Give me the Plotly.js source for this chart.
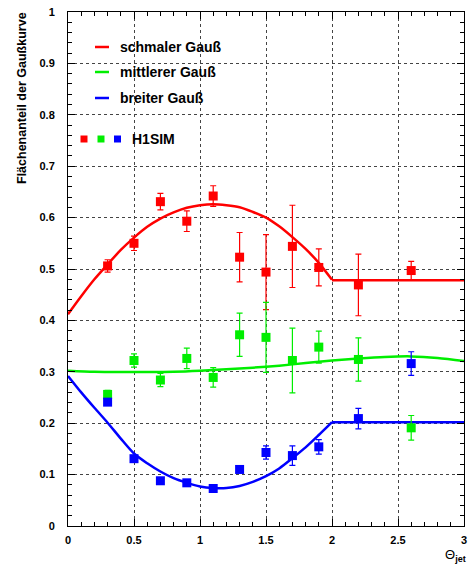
<!DOCTYPE html>
<html>
<head>
<meta charset="utf-8">
<script src="https://cdn.plot.ly/plotly-3.0.1.min.js"></script>
<style>html,body{margin:0;padding:0;background:#fff;}#chart{width:472px;height:567px;}</style>
</head>
<body>
<div id="chart"></div>
<script>
// ---- data ----
const thetaPoints = [0.3, 0.5, 0.7, 0.9, 1.1, 1.3, 1.5, 1.7, 1.9, 2.2, 2.6];

const schmalValues = [0.506, 0.550, 0.631, 0.593, 0.642, 0.523, 0.494, 0.544, 0.503, 0.469, 0.497];
const schmalErrors = [0.012, 0.014, 0.016, 0.020, 0.020, 0.048, 0.073, 0.080, 0.036, 0.060, 0.018];

const mittelValues = [0.256, 0.322, 0.284, 0.326, 0.289, 0.372, 0.367, 0.322, 0.348, 0.324, 0.191];
const mittelErrors = [0.008, 0.013, 0.013, 0.020, 0.019, 0.042, 0.068, 0.063, 0.031, 0.042, 0.024];

const breitValues = [0.241, 0.131, 0.088, 0.084, 0.073, 0.110, 0.143, 0.137, 0.154, 0.209, 0.316];
const breitErrors = [0.004, 0.004, 0.004, 0.004, 0.004, 0.006, 0.013, 0.019, 0.014, 0.020, 0.023];

// fitted curves (curved part up to 2.0, flat part 2.0-3.0)
const fitX = [0, 0.1, 0.2, 0.3, 0.4, 0.5, 0.6, 0.7, 0.8, 0.9, 1.0, 1.1, 1.2, 1.3, 1.4, 1.5, 1.6, 1.7, 1.8, 1.9, 2.0];
const schmalFit = [0.412, 0.447, 0.480, 0.509, 0.537, 0.561, 0.582, 0.598, 0.610, 0.619, 0.624, 0.626, 0.624, 0.620, 0.611, 0.600, 0.583, 0.562, 0.539, 0.512, 0.479];
const breitFit  = [0.292, 0.260, 0.230, 0.201, 0.170, 0.141, 0.122, 0.106, 0.093, 0.084, 0.077, 0.074, 0.074, 0.078, 0.086, 0.097, 0.112, 0.132, 0.153, 0.177, 0.202];
const flatX = [2.0, 3.0];
const schmalFlat = [0.478, 0.478];
const breitFlat = [0.202, 0.202];

const mittelFitX = [0, 0.2, 0.4, 0.6, 0.8, 1.0, 1.2, 1.4, 1.6, 1.8, 2.0, 2.2, 2.4, 2.6, 2.8, 3.0];
const mittelFit  = [0.302, 0.300, 0.2995, 0.2995, 0.300, 0.302, 0.305, 0.308, 0.312, 0.317, 0.322, 0.326, 0.329, 0.330, 0.327, 0.321];

const seriesNames = ['schmaler Gauß', 'mittlerer Gauß', 'breiter Gauß'];
const dataLabel = 'H1SIM';
const yTitle = 'Flächenanteil der Gaußkurve';

const RED = '#ff0000', GREEN = '#00ee00', BLUE = '#0000ff';
const colors = [RED, GREEN, BLUE];

function pointTrace(vals, errs, color) {
  return {
    x: thetaPoints, y: vals, type: 'scatter', mode: 'markers',
    marker: {symbol: 'square', size: 9, color: color},
    error_y: {type: 'data', array: errs, visible: true, color: color, thickness: 1.2, width: 3},
    showlegend: false, hoverinfo: 'x+y'
  };
}
function lineTrace(xs, ys, color, shape) {
  return {x: xs, y: ys, type: 'scatter', mode: 'lines',
    line: {color: color, width: 2.5, shape: shape, smoothing: 0.8}, showlegend: false, hoverinfo: 'skip'};
}

const traces = [
  lineTrace(fitX, schmalFit, RED, 'spline'),
  lineTrace(flatX, schmalFlat, RED, 'linear'),
  lineTrace(mittelFitX, mittelFit, GREEN, 'spline'),
  lineTrace(fitX, breitFit, BLUE, 'spline'),
  lineTrace(flatX, breitFlat, BLUE, 'linear'),
  pointTrace(schmalValues, schmalErrors, RED),
  pointTrace(mittelValues, mittelErrors, GREEN),
  pointTrace(breitValues, breitErrors, BLUE)
];

// pixel -> paper helpers (plot area 68..464 x, 12..526 y)
const L = 68, R = 464, T = 12, B = 526;
const px = v => (v - L) / (R - L);
const py = v => (B - v) / (B - T);

const FONT = 'Liberation Sans, Arial, Helvetica, sans-serif';

const shapes = [];
const annotations = [];
const legendRows = [47, 72, 98];
seriesNames.forEach((name, i) => {
  shapes.push({type: 'line', xref: 'paper', yref: 'paper',
    x0: px(95), x1: px(109), y0: py(legendRows[i]), y1: py(legendRows[i]),
    line: {color: colors[i], width: 2.5}});
  annotations.push({xref: 'paper', yref: 'paper', x: px(118), y: py(legendRows[i]),
    xanchor: 'left', yanchor: 'middle', showarrow: false, text: name,
    font: {family: FONT, size: 14, color: '#000', weight: 'bold'}});
});
[84, 101, 117.5].forEach((cx, i) => {
  shapes.push({type: 'rect', xref: 'paper', yref: 'paper',
    x0: px(cx - 3.5), x1: px(cx + 3.5), y0: py(139 + 3.5), y1: py(139 - 3.5),
    fillcolor: colors[i], line: {width: 0}});
});
annotations.push({xref: 'paper', yref: 'paper', x: px(130), y: py(139),
  xanchor: 'left', yanchor: 'middle', showarrow: false, text: dataLabel,
  font: {family: FONT, size: 14, color: '#000', weight: 'bold'}});

// y-axis title (top aligned)
annotations.push({xref: 'paper', yref: 'paper', x: -(L - 22) / (R - L), y: py(10),
  xanchor: 'center', yanchor: 'top', showarrow: false, textangle: -90, text: yTitle,
  font: {family: FONT, size: 12.5, color: '#000', weight: 'bold'}});
// x-axis title
annotations.push({xref: 'paper', yref: 'paper', x: px(468), y: py(566),
  xanchor: 'right', yanchor: 'bottom', showarrow: false,
  text: 'Θ<sub><b>jet</b></sub>',
  font: {family: FONT, size: 13, color: '#000'}});

const axisCommon = {
  showline: true, linecolor: '#000', linewidth: 1, mirror: 'allticks',
  ticks: 'inside', ticklen: 7, tickcolor: '#000', tickwidth: 1,
  showgrid: true, gridcolor: '#444', griddash: 'dot', gridwidth: 1,
  zeroline: false, fixedrange: true,
  tickfont: {family: FONT, size: 11, color: '#000', weight: 'bold'}
};

const layout = {
  width: 472, height: 567,
  margin: {l: L, r: 472 - R, t: T, b: 567 - B, pad: 0},
  paper_bgcolor: '#fff', plot_bgcolor: '#fff',
  showlegend: false,
  xaxis: Object.assign({}, axisCommon, {
    range: [0, 3], tick0: 0, dtick: 0.5, ticklabelstandoff: 4,
    minor: {dtick: 0.1, ticks: 'inside', ticklen: 4, tickcolor: '#000', showgrid: false}
  }),
  yaxis: Object.assign({}, axisCommon, {
    range: [0, 1], tick0: 0, dtick: 0.1, ticklabelstandoff: 10,
    minor: {dtick: 0.02, ticks: 'inside', ticklen: 4, tickcolor: '#000', showgrid: false}
  }),
  shapes: shapes,
  annotations: annotations
};

Plotly.newPlot('chart', traces, layout, {displayModeBar: false, staticPlot: true});
</script>
</body>
</html>
